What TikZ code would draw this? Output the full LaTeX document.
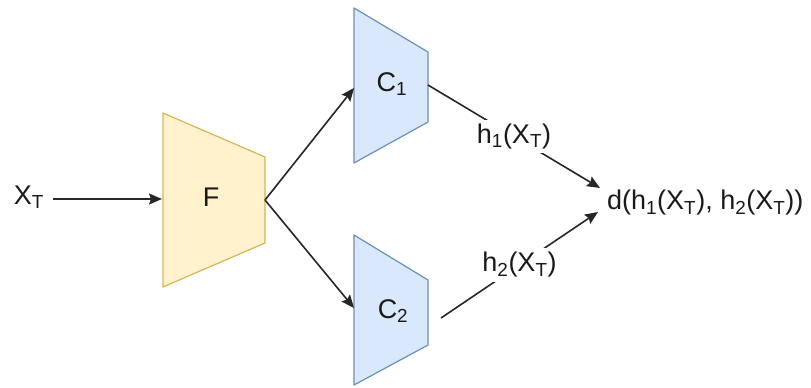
\documentclass[tikz,border=0pt]{standalone}
\usepackage{fontspec}
\setmainfont{Liberation Sans}
\usetikzlibrary{arrows.meta}
\definecolor{ffill}{HTML}{FFF2CC}
\definecolor{fdraw}{HTML}{D6B656}
\definecolor{cfill}{HTML}{DAE8FC}
\definecolor{cdraw}{HTML}{6C8EBF}
\definecolor{txt}{HTML}{1A1A1A}
\begin{document}
\begin{tikzpicture}[x=1pt,y=-1pt,
  lbl/.style={inner sep=1pt,text=txt,font=\fontsize{27}{31}\selectfont},
  wlbl/.style={lbl,fill=white,inner sep=4pt},
  fshape/.style={fill=ffill,draw=fdraw,line width=1.2pt,line join=round},
  cshape/.style={fill=cfill,draw=cdraw,line width=1.2pt,line join=round},
  conn/.style={draw=black!85,line width=1.6pt},
  arr/.style={conn,-{Stealth[length=13pt,width=11pt,inset=2pt]}}]
\useasboundingbox (0,0) rectangle (811,388);
% shapes
\draw[fshape] (163,113) -- (265,157) -- (265,243) -- (163,287) -- cycle;
\draw[cshape] (354,8) -- (428,52) -- (428,122) -- (354,163) -- cycle;
\draw[cshape] (354,235) -- (428,280) -- (428,345) -- (354,385) -- cycle;
% labels
\node[lbl] (xt) at (29,197) {X\textsubscript{T}};
\node[lbl] (f) at (211,197) {F};
\node[lbl] (c1) at (392,84) {C\textsubscript{1}};
\node[lbl] (c2) at (393,311) {C\textsubscript{2}};
\node[lbl,anchor=west] (d) at (606,203) {d(h\textsubscript{1}(X\textsubscript{T}), h\textsubscript{2}(X\textsubscript{T}))};
% ports
\coordinate (xs) at (53,199);
\coordinate (fin) at (162,199);
\coordinate (fout) at (265,200);
\coordinate (c1in) at (354,88);
\coordinate (c2in) at (354,308);
\coordinate (c1out) at (428,85);
\coordinate (c2out) at (441,318);
\coordinate (d1) at (600,188);
\coordinate (d2) at (598,212);
% connectors
\draw[arr] (xs) -- (fin);
\draw[arr] (fout) -- (c1in);
\draw[arr] (fout) -- (c2in);
\draw[arr] (c1out) -- (d1) node[wlbl,pos=0.5] (h1) {h\textsubscript{1}(X\textsubscript{T})};
\draw[arr] (c2out) -- (d2) node[wlbl,pos=0.5] (h2) {h\textsubscript{2}(X\textsubscript{T})};
\end{tikzpicture}
\end{document}
